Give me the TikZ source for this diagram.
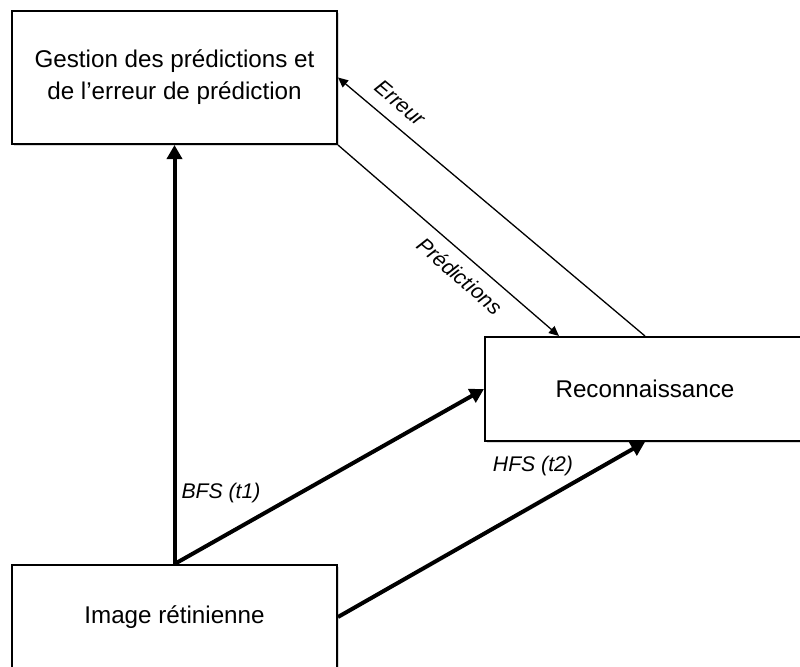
\documentclass[tikz,border=0pt]{standalone}
\usepackage{fontspec}
\setmainfont{Liberation Sans}
\usepackage{tikz}
\usetikzlibrary{arrows.meta}
\usetikzlibrary{shadows,positioning}
\tikzset{>={Triangle[length=5pt,width=4.5pt]},
  box/.style={draw, line width=1pt, fill=white, align=center, inner sep=0pt,
    font=\fontsize{12.1}{16}\selectfont,
    drop shadow={shadow xshift=1.2pt, shadow yshift=-1.2pt, opacity=0.3}},
  voie/.style={-{Triangle[length=7pt,width=7.5pt]}, line width=2pt},
  boucle/.style={->, line width=0.65pt},
  lbl/.style={font=\fontsize{10.6}{12}\selectfont\itshape}}

\begin{document}
\begin{tikzpicture}[x=0.5pt,y=-0.5pt]
    \clip (0,0) rectangle (800,666);
    \node[box, minimum width=162.5pt, minimum height=66.5pt] (gest) at (174.5,77.5) {Gestion des prédictions et\\de l’erreur de prédiction};
    \node[box, minimum width=160pt, minimum height=52pt] (reco) at (645,389) {Reconnaissance};
    \node[box, minimum width=162.5pt, minimum height=52pt] (img) at (174.5,617) {Image rétinienne};

    \path[voie] (img) edge (gest);
    \path[voie] (img.north) edge (reco.west);
    \path[voie] (img.east) edge (reco.south);
    \path[boucle] (reco.north) edge node[sloped, above=3pt, lbl, pos=0.84] {Erreur} (gest.east);
    \path[boucle] (gest.south east) edge node[sloped, below=2pt, lbl, pos=0.61] {Prédictions} ([xshift=37.5pt]reco.north west);

    \node[lbl] (bfs) at (221,493) {BFS (t1)};
    \node[lbl] (hfs) at (533,466) {HFS (t2)};
  \end{tikzpicture}
\end{document}
